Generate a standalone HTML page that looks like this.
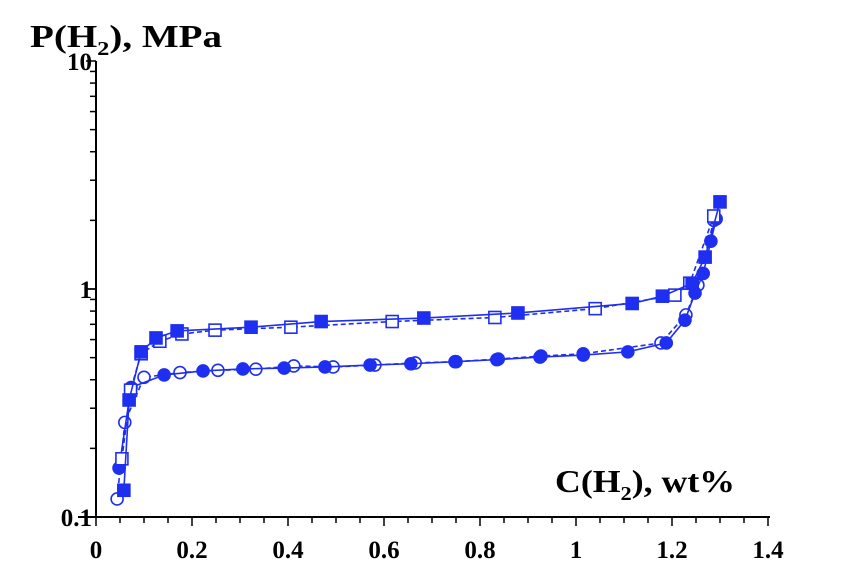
<!DOCTYPE html>
<html><head><meta charset="utf-8"><style>
body{margin:0;background:#fff}
svg{display:block}
text{font-family:"Liberation Serif",serif;font-weight:bold;fill:#000}
</style></head><body>
<svg id="chart" width="850" height="585" viewBox="0 0 850 585" xmlns="http://www.w3.org/2000/svg">
<text x="30" y="47" font-size="32" textLength="192" lengthAdjust="spacingAndGlyphs">P(H<tspan font-size="20" dy="8">2</tspan><tspan dy="-8">), MPa</tspan></text>
<text x="555" y="492" font-size="32" textLength="180" lengthAdjust="spacingAndGlyphs">C(H<tspan font-size="20" dy="8">2</tspan><tspan dy="-8">), wt%</tspan></text>
<g id="axes"></g><g id="series"></g>
</svg>
<script>
const xTicks=[0,0.2,0.4,0.6,0.8,1,1.2,1.4];
const xTickLabels=["0","0.2","0.4","0.6","0.8","1","1.2","1.4"];
const yTicks=[0.1,1,10];
const yTickLabels=["0.1","1","10"];
const absFilledX=[0.058,0.069,0.094,0.125,0.169,0.323,0.469,0.683,0.879,1.117,1.18,1.242,1.269,1.30];
const absFilledY=[0.131,0.326,0.53,0.61,0.655,0.68,0.72,0.746,0.785,0.864,0.93,1.06,1.38,2.41];
const absOpenX=[0.054,0.072,0.094,0.133,0.179,0.248,0.406,0.617,0.831,1.04,1.206,1.237,1.287];
const absOpenY=[0.18,0.36,0.52,0.59,0.635,0.66,0.68,0.72,0.75,0.82,0.94,1.06,2.09];
const desFilledX=[0.048,0.073,0.142,0.223,0.306,0.392,0.477,0.571,0.656,0.748,0.835,0.925,1.015,1.108,1.188,1.227,1.248,1.265,1.281,1.292];
const desFilledY=[0.164,0.37,0.42,0.437,0.446,0.45,0.455,0.464,0.47,0.48,0.49,0.503,0.513,0.53,0.58,0.73,0.96,1.17,1.62,2.03];
const desOpenX=[0.044,0.06,0.1,0.175,0.254,0.333,0.412,0.494,0.581,0.665,0.75,0.838,0.927,1.015,1.177,1.229,1.254,1.287];
const desOpenY=[0.12,0.26,0.41,0.43,0.44,0.445,0.46,0.455,0.464,0.474,0.48,0.493,0.508,0.52,0.58,0.77,1.04,2.0];

const NS="http://www.w3.org/2000/svg";
const X0=96,XS=480,Y1=289,DEC=228;
const sx=v=>X0+v*XS;
const sy=v=>Y1-Math.log10(v)*DEC;
const axes=document.getElementById('axes'),ser=document.getElementById('series');
function mk(t,a,p){const e=document.createElementNS(NS,t);for(const k in a)e.setAttribute(k,a[k]);p.appendChild(e);return e;}
let l=mk('line',{x1:X0,y1:sy(10),x2:X0,y2:sy(0.1),stroke:'#000','stroke-width':2},axes);


l=mk('line',{x1:X0-18,y1:sy(0.1),x2:sx(1.4)+2,y2:sy(0.1),stroke:'#000','stroke-width':2},axes);


for(let i=0;i<=28;i++){const v=i*0.05;const t=mk('line',{x1:sx(v),y1:sy(0.1),x2:sx(v),y2:sy(0.1)+(i%4==0?9:6),stroke:'#000','stroke-width':1.5},axes);

}
xTicks.forEach((v,i)=>{const t=mk('text',{x:sx(v),y:558,'font-size':25,'text-anchor':'middle'},axes);t.textContent=xTickLabels[i];

});
[0.1,1].forEach(d=>{for(let m=1;m<=10;m++){const v=d*m;const t=mk('line',{x1:X0-(m==1||m==10?10:6),y1:sy(v),x2:X0,y2:sy(v),stroke:'#000','stroke-width':1.5},axes);

}});
yTicks.forEach((v,i)=>{const t=mk('text',{x:X0-4,y:sy(v)+9,'font-size':25,'text-anchor':'end'},axes);t.textContent=yTickLabels[i];

});
const C='#1f2ff0';
function series(xs,ys,name,dash,shape,filled){
  const g=mk('g',{},ser);
  
  
  const pl=mk('polyline',{points:xs.map((x,i)=>sx(x)+','+sy(ys[i])).join(' '),fill:'none',stroke:C,'stroke-width':1.6,'stroke-dasharray':dash?'5,3':'none'},g);
  
  
  xs.forEach((x,i)=>{let m;const a={fill:filled?C:'#fff',stroke:C,'stroke-width':1.6};
    if(shape=='sq'){a.x=sx(x)-6;a.y=sy(ys[i])-6;a.width=12;a.height=12;m=mk('rect',a,g);}
    else{a.cx=sx(x);a.cy=sy(ys[i]);a.r=6;m=mk('circle',a,g);}
    
    });
}
series(desOpenX,desOpenY,'desorption-open-series',true,'ci',false);
series(desFilledX,desFilledY,'desorption-filled-series',false,'ci',true);
series(absOpenX,absOpenY,'absorption-open-series',true,'sq',false);
series(absFilledX,absFilledY,'absorption-filled-series',false,'sq',true);
</script>
</body></html>
